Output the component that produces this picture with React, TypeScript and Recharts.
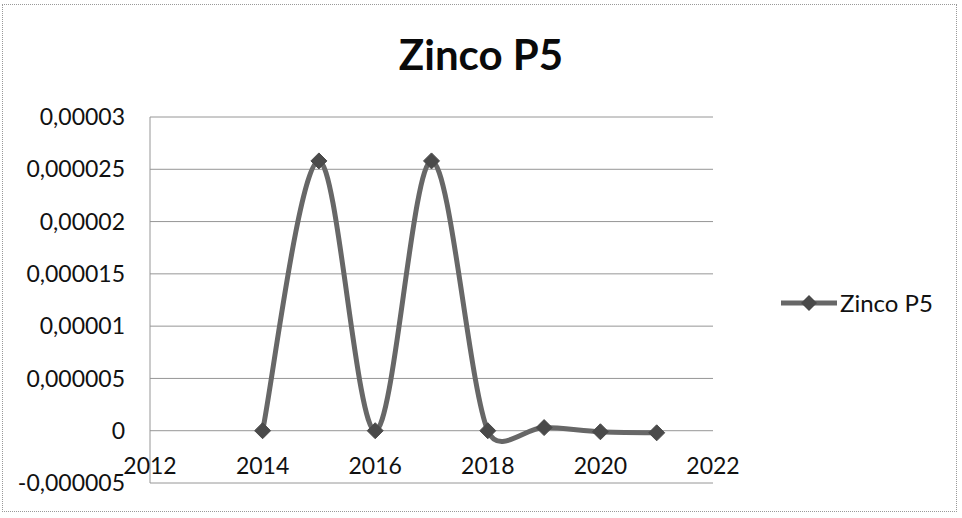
import { LineChart, Line, XAxis, YAxis, CartesianGrid, Legend } from 'recharts';

const years = [2014, 2015, 2016, 2017, 2018, 2019, 2020, 2021];
const zincoP5 = [0, 0.0000258, 0, 0.0000258, 0, 0.0000003, -0.0000001, -0.0000002];
const xTicks = [2012, 2014, 2016, 2018, 2020, 2022];
const yTicks = [-0.000005, 0, 0.000005, 0.00001, 0.000015, 0.00002, 0.000025, 0.00003];

const data = years.map((year, i) => ({ year, value: zincoP5[i] }));

const FONT = 'Lato, "Open Sans", sans-serif';
const LINE = '#676767';
const MARK = '#4a4a4a';
const GRID = '#969696';

// Excel-like smoothed line: bezier through points, control arm capped at half the segment
function excelSmooth(context: any) {
    let pts: number[][] = [];
    const arm = (p0: number[], p1: number[], p2: number[], seg: number) => {
        let tx = (p2[0] - p0[0]) / 6;
        let ty = (p2[1] - p0[1]) / 6;
        const len = Math.hypot(tx, ty);
        const max = seg / 2;
        if (len > max && len > 0) {
            tx *= max / len;
            ty *= max / len;
        }
        return [tx, ty];
    };
    return {
        areaStart() {},
        areaEnd() {},
        lineStart() {
            pts = [];
        },
        point(x: number, y: number) {
            pts.push([+x, +y]);
        },
        lineEnd() {
            const n = pts.length;
            if (!n) return;
            context.moveTo(pts[0][0], pts[0][1]);
            for (let i = 0; i < n - 1; i++) {
                const p0 = pts[Math.max(i - 1, 0)];
                const p1 = pts[i];
                const p2 = pts[i + 1];
                const p3 = pts[Math.min(i + 2, n - 1)];
                const seg = Math.hypot(p2[0] - p1[0], p2[1] - p1[1]);
                const a = arm(p0, p1, p2, seg);
                const b = arm(p1, p2, p3, seg);
                context.bezierCurveTo(p1[0] + a[0], p1[1] + a[1], p2[0] - b[0], p2[1] - b[1], p2[0], p2[1]);
            }
        },
    };
}

const fmt = (v: number) => String(Number(v.toFixed(6))).replace('.', ',');

const Diamond = ({ cx, cy }: any) => (
    <polygon
        points={`${cx},${cy - 8} ${cx + 8},${cy} ${cx},${cy + 8} ${cx - 8},${cy}`}
        fill={MARK}
        stroke={MARK}
        strokeWidth={1}
    />
);

const XTick = ({ x, y, payload }: any) => (
    <text x={x} y={y - 9} textAnchor="middle" fontFamily={FONT} fontSize={23} fill="#111">
        {payload.value}
    </text>
);

const LegendContent = () => (
    <div style={{ display: 'flex', alignItems: 'center', whiteSpace: 'nowrap' }}>
        <svg width={57} height={26} style={{ flex: 'none' }}>
            <line x1={0} y1={13} x2={56} y2={13} stroke={LINE} strokeWidth={5} />
            <polygon points="28,5 36,13 28,21 20,13" fill={MARK} />
        </svg>
        <span style={{ fontFamily: FONT, fontSize: 24, color: '#111', marginLeft: 2, lineHeight: '30px' }}>
            Zinco P5
        </span>
    </div>
);

export default function App() {
    return (
        <div style={{ position: 'absolute', left: 0, top: 0, width: 962, height: 518, background: '#fff' }}>
            <div
                style={{
                    position: 'absolute',
                    left: 2,
                    top: 4,
                    width: 955,
                    height: 508,
                    border: '1px dotted #999',
                    boxSizing: 'border-box',
                }}
            />
            <div
                style={{
                    position: 'absolute',
                    left: 0,
                    width: 962,
                    top: 28,
                    textAlign: 'center',
                    fontFamily: FONT,
                    fontWeight: 700,
                    fontSize: 42,
                    lineHeight: '52px',
                    color: '#0a0a0a',
                }}
            >
                Zinco P5
            </div>
            <div style={{ position: 'absolute', left: 0, top: 0 }}>
                <LineChart width={962} height={518} data={data} margin={{ top: 117, right: 249, bottom: 0, left: 0 }}>
                    <CartesianGrid vertical={false} stroke={GRID} strokeWidth={1} />
                    <XAxis
                        dataKey="year"
                        type="number"
                        domain={[2012, 2022]}
                        ticks={xTicks}
                        height={35}
                        axisLine={false}
                        tickLine={false}
                        tickSize={0}
                        tickMargin={0}
                        tick={<XTick />}
                        interval={0}
                    />
                    <YAxis
                        type="number"
                        domain={[-0.000005, 0.00003]}
                        ticks={yTicks}
                        width={150}
                        interval={0}
                        axisLine={{ stroke: GRID }}
                        tickLine={false}
                        tickSize={0}
                        tickMargin={25}
                        tickFormatter={fmt}
                        tick={{ fontFamily: FONT, fontSize: 23, fill: '#111' }}
                    />
                    <Legend
                        layout="horizontal"
                        verticalAlign="middle"
                        align="center"
                        content={<LegendContent />}
                        wrapperStyle={{ left: 781, top: 288, width: 170, height: 30 }}
                    />
                    <Line
                        dataKey="value"
                        name="Zinco P5"
                        type={excelSmooth as any}
                        stroke={LINE}
                        strokeWidth={5}
                        dot={<Diamond />}
                        activeDot={false}
                        isAnimationActive={false}
                    />
                </LineChart>
            </div>
        </div>
    );
}
